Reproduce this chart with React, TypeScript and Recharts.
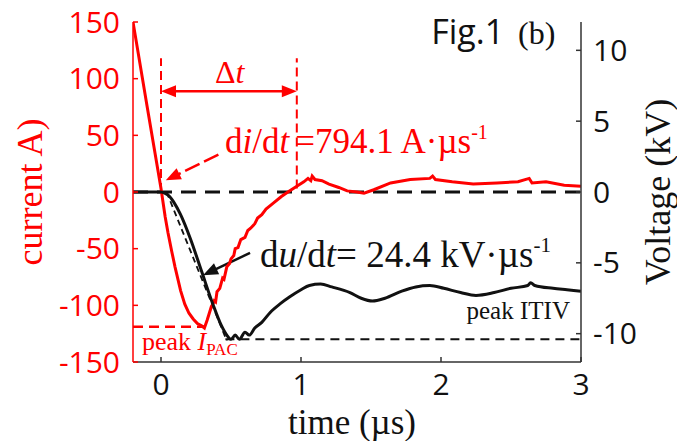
import React from "react";
import { ComposedChart, Line, XAxis, YAxis, ReferenceLine, ReferenceDot } from "recharts";

const RED = "#ff0000";
const INK = "#111111";
const SANS = "'Open Sans', sans-serif";
const SERIF = "'Liberation Serif', 'Times New Roman', serif";

const timeTicks = [0, 1, 2, 3];
const currentTicks = [-150, -100, -50, 0, 50, 100, 150];
const voltageTicks = [-10, -5, 0, 5, 10];

// current (A) vs time (us)
const currentData = [
  { t: -0.2, i: 150 }, { t: -0.1, i: 76 }, { t: 0, i: 3 }, { t: 0.03, i: -22 },
  { t: 0.05, i: -36 }, { t: 0.076, i: -52 }, { t: 0.1, i: -66 }, { t: 0.14, i: -87 },
  { t: 0.17, i: -99 }, { t: 0.2, i: -107 }, { t: 0.23, i: -112 }, { t: 0.26, i: -116 },
  { t: 0.29, i: -118 }, { t: 0.31, i: -120 }, { t: 0.33, i: -113 }, { t: 0.36, i: -101 },
  { t: 0.37, i: -99 }, { t: 0.38, i: -96 }, { t: 0.39, i: -97 }, { t: 0.4, i: -88 },
  { t: 0.42, i: -85 }, { t: 0.44, i: -76 }, { t: 0.45, i: -77 }, { t: 0.47, i: -66 },
  { t: 0.49, i: -63 }, { t: 0.5, i: -59 }, { t: 0.52, i: -56 }, { t: 0.53, i: -50 },
  { t: 0.55, i: -49 }, { t: 0.57, i: -42 }, { t: 0.6, i: -40 }, { t: 0.62, i: -34 },
  { t: 0.64, i: -32 }, { t: 0.67, i: -28 }, { t: 0.69, i: -23 }, { t: 0.72, i: -20 },
  { t: 0.75, i: -15 }, { t: 0.8, i: -10 }, { t: 0.86, i: -4 }, { t: 0.92, i: 1 },
  { t: 0.97, i: 5 }, { t: 1.02, i: 9 }, { t: 1.05, i: 12 }, { t: 1.07, i: 10 },
  { t: 1.08, i: 14 }, { t: 1.1, i: 11 }, { t: 1.15, i: 10 }, { t: 1.2, i: 7 },
  { t: 1.27, i: 4 }, { t: 1.33, i: 1 }, { t: 1.4, i: 0 }, { t: 1.45, i: -1 },
  { t: 1.52, i: 2 }, { t: 1.64, i: 8 }, { t: 1.78, i: 11 }, { t: 1.92, i: 12 },
  { t: 1.94, i: 14 }, { t: 1.96, i: 11 }, { t: 2.08, i: 9 }, { t: 2.23, i: 7 },
  { t: 2.4, i: 8 }, { t: 2.55, i: 9 }, { t: 2.63, i: 12 }, { t: 2.65, i: 8 },
  { t: 2.75, i: 9 }, { t: 2.88, i: 6 }, { t: 3.0, i: 5 },
];

// voltage (kV) vs time (us)
const voltageData = [
  { t: -0.2, v: 0 }, { t: 0.0, v: 0 }, { t: 0.03, v: -0.1 }, { t: 0.06, v: -0.3 },
  { t: 0.09, v: -0.7 }, { t: 0.14, v: -1.6 }, { t: 0.21, v: -3.3 }, { t: 0.29, v: -5.6 },
  { t: 0.37, v: -7.9 }, { t: 0.43, v: -9.4 }, { t: 0.47, v: -10.1 }, { t: 0.5, v: -10.4 },
  { t: 0.53, v: -10.1 }, { t: 0.56, v: -10.4 }, { t: 0.6, v: -9.9 }, { t: 0.63, v: -10.1 },
  { t: 0.67, v: -9.6 }, { t: 0.72, v: -9.2 }, { t: 0.78, v: -8.5 }, { t: 0.85, v: -7.9 },
  { t: 0.92, v: -7.4 }, { t: 1.0, v: -6.9 }, { t: 1.06, v: -6.6 }, { t: 1.14, v: -6.5 },
  { t: 1.22, v: -6.7 }, { t: 1.35, v: -7.1 }, { t: 1.43, v: -7.5 }, { t: 1.51, v: -7.7 },
  { t: 1.6, v: -7.5 }, { t: 1.72, v: -7.0 }, { t: 1.82, v: -6.7 }, { t: 1.92, v: -6.6 },
  { t: 2.02, v: -6.8 }, { t: 2.14, v: -7.1 }, { t: 2.25, v: -7.3 }, { t: 2.38, v: -7.1 },
  { t: 2.5, v: -6.8 }, { t: 2.62, v: -6.6 }, { t: 2.64, v: -6.4 }, { t: 2.67, v: -6.6 },
  { t: 2.8, v: -6.8 }, { t: 2.9, v: -6.9 }, { t: 3.0, v: -7.0 },
];

// du/dt tangent
const tangentData = [{ t: 0.04, v: 0 }, { t: 0.47, v: -10.5 }];

const peakCurrent = { t: 0.31, i: -119 };
const peakVoltage = { t: 0.46, v: -10.4 };
const deltaT = { start: 0, end: 0.97, level: 89, top: 118 };

const arrowHead = (x1: number, y1: number, x2: number, y2: number, color: string, len = 15, half = 6) => {
  const dx = x2 - x1;
  const dy = y2 - y1;
  const d = Math.sqrt(dx * dx + dy * dy) || 1;
  const ux = dx / d;
  const uy = dy / d;
  const bx = x2 - ux * len;
  const by = y2 - uy * len;
  const pts = `${x2},${y2} ${bx - uy * half},${by + ux * half} ${bx + uy * half},${by - ux * half}`;
  return <polygon points={pts} fill={color} stroke="none" />;
};

const makeArrow = (color: string, both: boolean, dash?: string) => (p: any) => {
  const { x1, y1, x2, y2 } = p;
  const dx = x2 - x1;
  const dy = y2 - y1;
  const d = Math.sqrt(dx * dx + dy * dy) || 1;
  const sx = both ? x1 + (dx / d) * 12 : x1;
  const sy = both ? y1 + (dy / d) * 12 : y1;
  return (
    <g>
      <line x1={sx} y1={sy} x2={x2 - (dx / d) * 12} y2={y2 - (dy / d) * 12} stroke={color} strokeWidth={2.5} strokeDasharray={dash} />
      {arrowHead(x1, y1, x2, y2, color)}
      {both && arrowHead(x2, y2, x1, y1, color)}
    </g>
  );
};

const txt = (content: React.ReactNode, style: any) => (p: any) => (
  <text x={p.cx} y={p.cy} {...style}>{content}</text>
);

export default function App() {
  return (
    <div style={{ position: "absolute", left: 0, top: 0, width: 677, height: 441, background: "#fff" }}>
      <ComposedChart width={677} height={441} margin={{ top: 22, right: 0, bottom: 0, left: 0 }}>
        <XAxis
          dataKey="t"
          type="number"
          domain={[-0.2, 3]}
          ticks={timeTicks}
          allowDataOverflow
          height={79}
          axisLine={{ stroke: "#333", strokeWidth: 1.5 }}
          tickLine={{ stroke: "#333", strokeWidth: 1.5 }}
          tickSize={-5}
          tickMargin={17}
          tick={{ fill: INK, fontSize: 30, fontFamily: SANS }}
          label={{
            content: (p: any) => (
              <text x={p.viewBox.x + p.viewBox.width / 2 - 5} y={p.viewBox.y + 72} textAnchor="middle" fill={INK} fontSize={35} fontFamily={SERIF}>
                time (µs)
              </text>
            ),
          }}
        />
        <YAxis
          yAxisId="i"
          orientation="left"
          type="number"
          domain={[-150, 150]}
          ticks={currentTicks}
          allowDataOverflow
          width={133}
          axisLine={{ stroke: RED, strokeWidth: 1.5 }}
          tickLine={{ stroke: RED, strokeWidth: 1.5 }}
          tickSize={-5}
          tickMargin={18}
          tick={{ fill: RED, fontSize: 30, fontFamily: SANS }}
          label={{
            content: (p: any) => {
              const x = p.viewBox.x + 42;
              const y = p.viewBox.y + p.viewBox.height / 2;
              return (
                <text x={x} y={y} transform={`rotate(-90 ${x} ${y})`} textAnchor="middle" fill={RED} fontSize={36} fontFamily={SERIF}>
                  current A)
                </text>
              );
            },
          }}
        />
        <YAxis
          yAxisId="v"
          orientation="right"
          type="number"
          domain={[-12, 12]}
          ticks={voltageTicks}
          allowDataOverflow
          width={96}
          axisLine={{ stroke: "#333", strokeWidth: 1.5 }}
          tickLine={{ stroke: "#333", strokeWidth: 1.5 }}
          tickSize={-5}
          tickMargin={17}
          tick={{ fill: INK, fontSize: 30, fontFamily: SANS, textAnchor: "start" }}
          label={{
            content: (p: any) => {
              const x = p.viewBox.x + 89;
              const y = p.viewBox.y + p.viewBox.height / 2;
              return (
                <text x={x} y={y} transform={`rotate(-90 ${x} ${y})`} textAnchor="middle" fill={INK} fontSize={36} fontFamily={SERIF}>
                  Voltage (kV)
                </text>
              );
            },
          }}
        />

        <ReferenceLine yAxisId="i" y={0} stroke={INK} strokeWidth={3} strokeDasharray="15 9" />
        <ReferenceLine
          yAxisId="i"
          segment={[{ x: -0.2, y: peakCurrent.i }, { x: peakCurrent.t, y: peakCurrent.i }]}
          stroke={RED}
          strokeWidth={2.5}
          strokeDasharray="10 6"
        />
        <ReferenceLine
          yAxisId="v"
          segment={[{ x: peakVoltage.t, y: peakVoltage.v }, { x: 3, y: peakVoltage.v }]}
          stroke={INK}
          strokeWidth={2}
          strokeDasharray="9 6"
        />
        <ReferenceLine
          yAxisId="i"
          segment={[{ x: deltaT.start, y: 0 }, { x: deltaT.start, y: deltaT.top }]}
          stroke={RED}
          strokeWidth={2}
          strokeDasharray="9 5"
        />
        <ReferenceLine
          yAxisId="i"
          segment={[{ x: deltaT.end, y: 3 }, { x: deltaT.end, y: deltaT.top }]}
          stroke={RED}
          strokeWidth={2}
          strokeDasharray="9 5"
        />
        <ReferenceLine
          yAxisId="i"
          segment={[{ x: deltaT.start, y: deltaT.level }, { x: deltaT.end, y: deltaT.level }]}
          shape={makeArrow(RED, true)}
        />
        <ReferenceLine
          yAxisId="i"
          segment={[{ x: 0.41, y: 33 }, { x: 0.034, y: 10.3 }]}
          shape={makeArrow(RED, false, "16 5")}
        />
        <ReferenceLine
          yAxisId="v"
          segment={[{ x: 0.636, y: -4.3 }, { x: 0.3, y: -5.87 }]}
          shape={makeArrow(INK, false)}
        />

        <Line yAxisId="v" data={tangentData} dataKey="v" stroke={INK} strokeWidth={1.8} strokeDasharray="6 4" dot={false} isAnimationActive={false} />
        <Line yAxisId="i" data={currentData} dataKey="i" type="linear" stroke={RED} strokeWidth={3} dot={false} isAnimationActive={false} />
        <Line yAxisId="v" data={voltageData} dataKey="v" type="monotone" stroke={INK} strokeWidth={3} dot={false} isAnimationActive={false} />

        <ReferenceDot yAxisId="i" x={1.93} y={130.9} shape={txt("Fig.1", { fill: INK, fontSize: 34, fontFamily: SANS })} />
        <ReferenceDot yAxisId="i" x={2.55} y={130.9} shape={txt("(b)", { fill: INK, fontSize: 32, fontFamily: SERIF })} />
        <ReferenceDot
          yAxisId="i"
          x={0.386}
          y={96}
          shape={txt(<>Δ<tspan fontStyle="italic">t</tspan></>, { fill: RED, fontSize: 32, fontFamily: SERIF })}
        />
        <ReferenceDot
          yAxisId="i"
          x={0.457}
          y={34}
          shape={txt(
            <>
              d<tspan fontStyle="italic">i</tspan>/d<tspan fontStyle="italic">t</tspan>
              <tspan dx={6}>=794.1 A·µs</tspan>
              <tspan fontSize={20} dy={-14}>-1</tspan>
            </>,
            { fill: RED, fontSize: 35, fontFamily: SERIF }
          )}
        />
        <ReferenceDot
          yAxisId="v"
          x={0.707}
          y={-5.28}
          shape={txt(
            <>
              d<tspan fontStyle="italic">u</tspan>/d<tspan fontStyle="italic">t</tspan>
              <tspan>= 24.4 kV·µs</tspan>
              <tspan fontSize={21} dy={-15}>-1</tspan>
            </>,
            { fill: INK, fontSize: 37, fontFamily: SERIF }
          )}
        />
        <ReferenceDot
          yAxisId="i"
          x={-0.136}
          y={-139.6}
          shape={txt(
            <>
              peak <tspan fontStyle="italic">I</tspan>
              <tspan fontSize={17} dy={5}>PAC</tspan>
            </>,
            { fill: RED, fontSize: 26, fontFamily: SERIF }
          )}
        />
        <ReferenceDot
          yAxisId="v"
          x={2.921}
          y={-8.97}
          shape={txt("peak ITIV", { fill: INK, fontSize: 25, fontFamily: SERIF, textAnchor: "end" })}
        />
      </ComposedChart>
    </div>
  );
}
